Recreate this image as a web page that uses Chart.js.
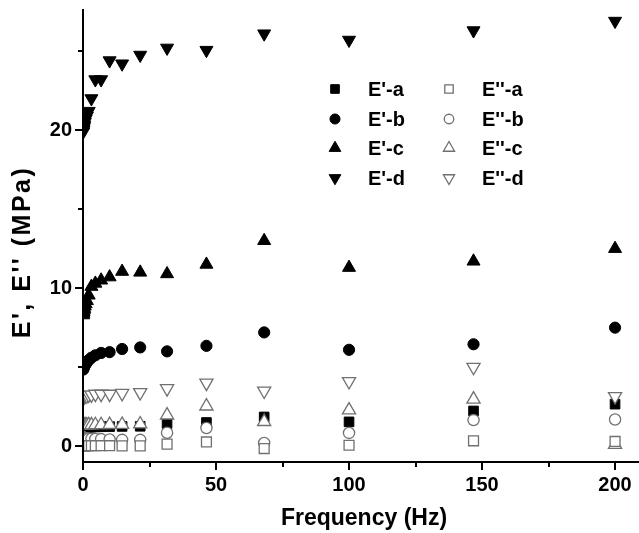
<!DOCTYPE html>
<html><head><meta charset="utf-8">
<script src="https://cdn.jsdelivr.net/npm/chart.js@4.4.0/dist/chart.umd.min.js"></script>
<style>html,body{margin:0;padding:0;background:#fff}canvas{display:block}</style>
</head><body>
<canvas id="c" width="639" height="533"></canvas>
<script>
const freq = [0.1,0.147,0.215,0.316,0.464,0.681,1,1.47,2.15,3.16,4.64,6.81,10,14.7,21.5,31.6,46.4,68.1,100,146.8,200];
const Ea  = [1.12,1.13,1.14,1.15,1.16,1.17,1.18,1.19,1.2,1.21,1.22,1.23,1.24,1.25,1.26,1.43,1.5,1.85,1.54,2.23,2.66];
const Eb  = [4.85,4.9,4.95,5.0,5.05,5.1,5.2,5.3,5.45,5.6,5.75,5.9,5.95,6.15,6.25,6.0,6.35,7.2,6.1,6.45,7.5];
const Ec  = [8.3,8.4,8.5,8.6,8.7,8.85,9.0,9.2,9.55,10.1,10.3,10.5,10.7,11.05,11.0,10.9,11.5,13.0,11.3,11.7,12.5];
const Ed  = [19.9,20.0,20.1,20.2,20.3,20.5,20.7,20.9,21.2,22.0,23.2,23.2,24.4,24.2,24.75,25.2,25.06,26.1,25.7,26.3,26.9];
const E2a = [0.03,0.03,0.03,0.03,0.03,0.03,0.03,0.03,0.03,0.03,0.03,0.03,0.03,0.02,0.02,0.13,0.27,-0.15,0.06,0.34,0.3];
const E2b = [0.56,0.55,0.54,0.53,0.52,0.51,0.5,0.49,0.48,0.47,0.46,0.45,0.43,0.4,0.4,0.85,1.15,0.2,0.84,1.65,1.69];
const E2c = [1.3,1.3,1.31,1.31,1.32,1.32,1.33,1.33,1.34,1.34,1.35,1.35,1.36,1.37,1.4,1.96,2.53,1.55,2.28,2.97,0.1];
const E2d = [3.05,3.1,3.1,3.15,3.15,3.2,3.2,3.2,3.25,3.25,3.3,3.3,3.3,3.35,3.4,3.65,4.0,3.5,4.1,5.0,3.15];
const xMajor = [0,50,100,150,200];
const xMinor = [25,75,125,175];
const yMajor = [0,10,20];
const yMinor = [5,15,25];
const labels = ["E'-a","E'-b","E'-c","E'-d","E''-a","E''-b","E''-c","E''-d"];
const xTitle = "Frequency (Hz)";
const yTitle = "E', E'' (MPa)";

const GRAY = '#707070';
const FONT = '"Liberation Sans", Arial, sans-serif';
function pts(ys){ return freq.map((f,i)=>({x:f,y:ys[i]})); }
const styles = [
  {s:'rect',r:6.8,rot:0,fill:'#000',stroke:'#000'},
  {s:'circle',r:5.6,rot:0,fill:'#000',stroke:'#000'},
  {s:'triangle',r:7.5,rot:0,fill:'#000',stroke:'#000'},
  {s:'triangle',r:7.5,rot:180,fill:'#000',stroke:'#000'},
  {s:'rect',r:7,rot:0,fill:'#fff',stroke:GRAY},
  {s:'circle',r:5.6,rot:0,fill:'#fff',stroke:GRAY},
  {s:'triangle',r:7.6,rot:0,fill:'#fff',stroke:GRAY},
  {s:'triangle',r:7.6,rot:180,fill:'#fff',stroke:GRAY}
];
const series = [Ea,Eb,Ec,Ed,E2a,E2b,E2c,E2d];
const datasets = series.map((ys,i)=>({
  label: labels[i], data: pts(ys), showLine:false,
  pointStyle: styles[i].s, pointRadius: styles[i].r, pointRotation: styles[i].rot,
  pointBackgroundColor: styles[i].fill, pointBorderColor: styles[i].stroke,
  pointBorderWidth: i<4?1:1.3, pointHoverRadius: styles[i].r,
  order: i<4?1:0, clip:{left:0, top:20, right:20, bottom:20}
}));

function marker(ctx, st, x, y){
  ctx.save();
  ctx.fillStyle = st.fill; ctx.strokeStyle = st.stroke; ctx.lineWidth = st.fill==='#000'?1:1.3;
  ctx.beginPath();
  const r = st.r;
  if (st.s==='rect'){ const h=r*Math.SQRT1_2; ctx.rect(x-h,y-h,2*h,2*h); }
  else if (st.s==='circle'){ ctx.arc(x,y,r,0,Math.PI*2); }
  else {
    const d = st.rot===180?-1:1;
    ctx.moveTo(x, y - d*r);
    ctx.lineTo(x + r*0.866, y + d*r/2);
    ctx.lineTo(x - r*0.866, y + d*r/2);
    ctx.closePath();
  }
  ctx.fill(); ctx.stroke();
  ctx.restore();
}

const deco = {
  id:'deco',
  afterDraw(chart){
    const ctx = chart.ctx, xs = chart.scales.x, ys = chart.scales.y, a = chart.chartArea;
    ctx.save();
    ctx.strokeStyle='#000'; ctx.lineWidth=2;
    ctx.beginPath();
    ctx.moveTo(a.left, a.top); ctx.lineTo(a.left, a.bottom);
    xMajor.forEach(v=>{const p=Math.round(xs.getPixelForValue(v)); ctx.moveTo(p,a.bottom); ctx.lineTo(p,a.bottom+8);});
    xMinor.forEach(v=>{const p=Math.round(xs.getPixelForValue(v)); ctx.moveTo(p,a.bottom); ctx.lineTo(p,a.bottom+5);});
    yMajor.forEach(v=>{const p=Math.round(ys.getPixelForValue(v)); ctx.moveTo(a.left,p); ctx.lineTo(a.left-8,p);});
    yMinor.forEach(v=>{const p=Math.round(ys.getPixelForValue(v)); ctx.moveTo(a.left,p); ctx.lineTo(a.left-5,p);});
    ctx.stroke();
    // titles
    ctx.fillStyle='#000';
    ctx.textAlign='center'; ctx.textBaseline='middle';
    ctx.font='bold 23px '+FONT;
    ctx.fillText(xTitle, 364, 519);
    ctx.save();
    ctx.font='bold 25px '+FONT;
    try { ctx.letterSpacing='2.5px'; } catch(e){}
    ctx.translate(23, 252); ctx.rotate(-Math.PI/2); ctx.fillText(yTitle,0,0);
    ctx.restore();
    // legend
    ctx.font='bold 20px '+FONT;
    ctx.textAlign='left';
    const rowsY=[89,119,148,178];
    for(let i=0;i<4;i++){
      marker(ctx, Object.assign({}, styles[i], {r: styles[i].r*0.9}), 335, rowsY[i]);
      ctx.fillStyle='#000'; ctx.fillText(labels[i], 368, rowsY[i]+1);
      marker(ctx, Object.assign({}, styles[i+4], {r: styles[i+4].r*0.85}), 449, rowsY[i]);
      ctx.fillStyle='#000'; ctx.fillText(labels[i+4], 482, rowsY[i]+1);
    }
    ctx.restore();
  }
};

new Chart(document.getElementById('c'), {
  type:'scatter',
  data:{datasets},
  options:{
    responsive:false, animation:false, devicePixelRatio:1,
    layout:{autoPadding:false, padding:{top:10,right:0,left:0,bottom:0}},
    plugins:{legend:{display:false}, tooltip:{enabled:false}},
    scales:{
      x:{type:'linear', min:0, max:209,
        afterFit(s){ s.height = 71; s.paddingLeft = 0; s.paddingRight = 0; },
        afterBuildTicks(s){ s.ticks = xMajor.map(v=>({value:v})); },
        grid:{display:false, drawTicks:true, tickLength:8},
        border:{display:true, color:'#000', width:2},
        ticks:{color:'#000', padding:3, maxRotation:0, font:{family:FONT, size:20, weight:'bold'}}
      },
      y:{type:'linear', min:-1, max:27.6,
        afterFit(s){ s.width = 83; s.paddingTop = 0; s.paddingBottom = 0; },
        afterBuildTicks(s){ s.ticks = yMajor.map(v=>({value:v})); },
        grid:{display:false, drawTicks:true, tickLength:8},
        border:{display:true, color:'#000', width:2},
        ticks:{color:'#000', padding:3, font:{family:FONT, size:20, weight:'bold'}}
      }
    }
  },
  plugins:[deco]
});
</script>
</body></html>
